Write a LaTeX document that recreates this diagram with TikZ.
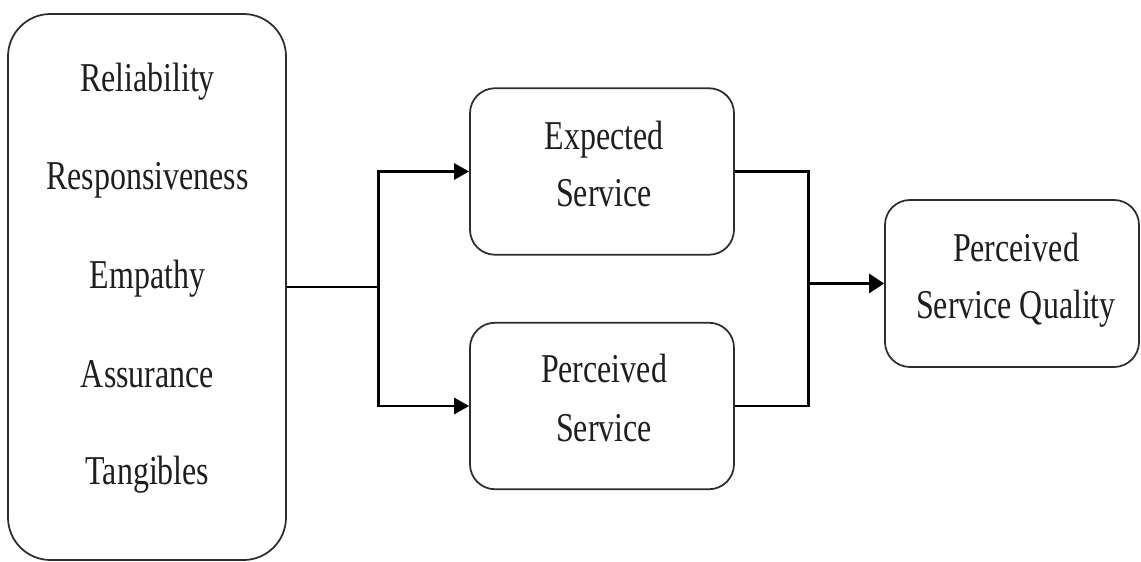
\documentclass[tikz,border=0pt]{standalone}
\usepackage{fontspec}
\setmainfont{Liberation Serif}
\newfontfamily\tallserif[FakeStretch=0.78]{Liberation Serif}
\definecolor{boxline}{RGB}{45, 45, 45}
\definecolor{textdark}{RGB}{30, 30, 30}
\usepackage{tikz}
\usetikzlibrary{arrows.meta, positioning}

\tikzset{
  stagebox/.style={draw=boxline, line width=1pt, rounded corners=0.5cm, minimum width=5.28cm, minimum height=3.33cm},
  labeltext/.style={anchor=base, text=textdark, font=\tallserif\fontsize{23.3}{26}\selectfont},
  conn/.style={line width=1.7pt, black},
}

\begin{document}
\begin{tikzpicture}
  \useasboundingbox (0,0) rectangle (22.82,-11.24);

  % Dimensions box
  \node[draw=boxline, line width=1pt, rounded corners=0.85cm, minimum width=5.56cm, minimum height=10.92cm] (dims) at (2.94,-5.74) {};
  \node[labeltext] (rel) at (2.95,-1.84) {Reliability};
  \node[labeltext] (resp) at (2.95,-3.80) {Responsiveness};
  \node[labeltext] (emp) at (2.95,-5.78) {Empathy};
  \node[labeltext] (assu) at (2.95,-7.76) {Assurance};
  \node[labeltext] (tang) at (2.95,-9.70) {Tangibles};

  % Service boxes
  \node[stagebox] (expect) at (12.04,-3.43) {};
  \node[labeltext] at (12.08,-3.00) {Expected};
  \node[labeltext] at (12.08,-4.14) {Service};

  \node[stagebox] (percv) at (12.04,-8.12) {};
  \node[labeltext] at (12.08,-7.66) {Perceived};
  \node[labeltext] at (12.08,-8.84) {Service};

  % Quality box
  \node[stagebox, minimum width=5.08cm, minimum height=3.34cm] (quality) at (20.24,-5.67) {};
  \node[labeltext] at (20.32,-5.24) {Perceived};
  \node[labeltext] at (20.32,-6.38) {Service Quality};

  % Connectors
  \coordinate[right=1.84cm of dims.east] (split);
  \coordinate[left=1.52cm of quality.west] (merge);
  \draw[conn] (dims.east) -- (split);
  \draw[conn, -{Triangle[length=0.3cm, width=0.32cm]}] (split) |- (expect.west);
  \draw[conn, -{Triangle[length=0.3cm, width=0.32cm]}] (split) |- (percv.west);
  \draw[conn] (expect.east) -| (merge);
  \draw[conn] (percv.east) -| (merge);
  \draw[conn, -{Triangle[length=0.3cm, width=0.38cm]}] (merge) -- (quality.west);
\end{tikzpicture}
\end{document}
